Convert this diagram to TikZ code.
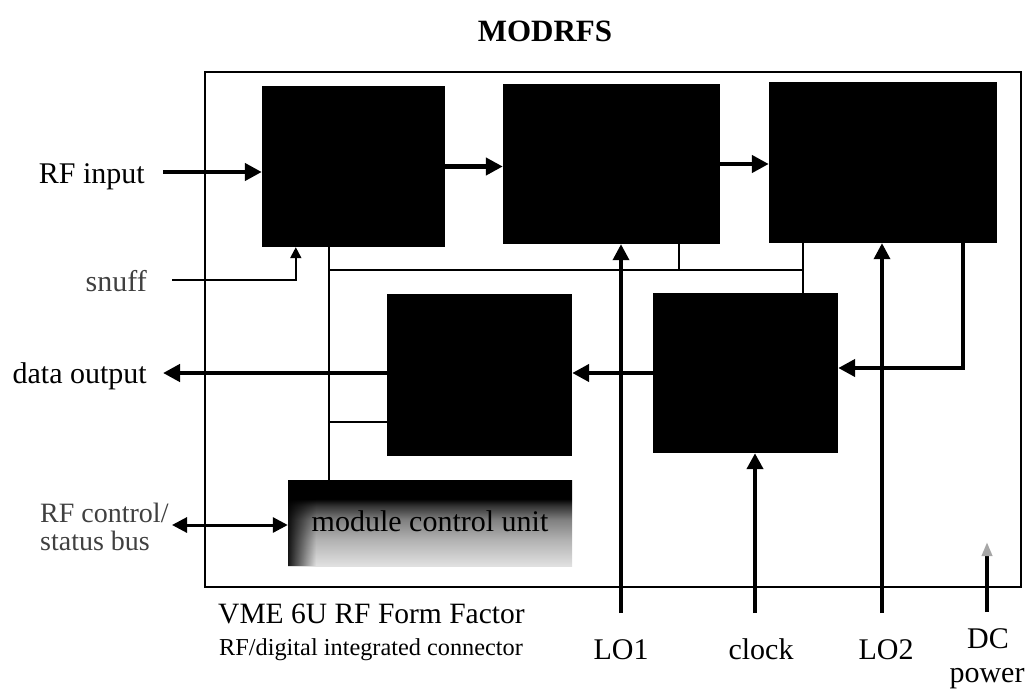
\documentclass[tikz,border=0pt]{standalone}
\usepackage{fontspec}
\setmainfont{Liberation Serif}
\usetikzlibrary{arrows.meta,fit,fadings}

% control unit fill: black along the top, fading to light grey at the bottom
% (the path is mapped onto the 25bp..75bp band of the shading)
\pgfdeclareverticalshading{mcushade}{100bp}{color(0bp)=(black!12); color(25bp)=(black!12);
  color(40bp)=(black!30); color(52bp)=(black!50); color(60bp)=(black!80);
  color(64bp)=(black); color(100bp)=(black)}
% darkening towards the left edge of the control unit
\tikzfading[name=mculeft, left color=transparent!0, right color=transparent!100]

\begin{document}
\begin{tikzpicture}[x=1pt,y=-1pt,
  every node/.style={font=\fontsize{30}{34}\selectfont},
  blk/.style={fill=black, draw=none, inner sep=0pt},
  lbl/.style={inner sep=0pt},
  wire/.style={line width=2pt},
  sig/.style={line width=4.5pt, -{Triangle[length=17pt,width=17pt]}},
  lo/.style={line width=3.5pt, -{Triangle[length=16pt,width=16pt]}},
]
\useasboundingbox (0,0) rectangle (1032,690);

% card outline
\node[draw, line width=2.5pt, inner sep=0pt, fit={(205,72)(1021,587)}] (card) {};

% functional blocks
\node[blk, fit={(262,86)(445,247)}] (b1) {};
\node[blk, fit={(503,84)(720,244)}] (b2) {};
\node[blk, fit={(769,82)(997,243)}] (b3) {};
\node[blk, fit={(653,293)(838,453)}] (b4) {};
\node[blk, fit={(387,294)(572,456)}] (b5) {};

% module control unit
\node[inner sep=0pt, fit={(288,480)(572,566)}, shading=mcushade] (mcu) {};
\fill[black, path fading=mculeft, fill opacity=0.9]
  (mcu.south west) rectangle ([xshift=28pt]mcu.north west);
\node[lbl] (mcut) at ([yshift=2pt]mcu.center) {module control unit};

% labels
\node[lbl, anchor=base, font=\bfseries\fontsize{31}{34}\selectfont] (title) at (545,42) {MODRFS};
\node[lbl, anchor=base east] (rfin) at (145,183) {RF input};
\node[lbl, anchor=base east, text=black!75] (snuff) at (147,291) {snuff};
\node[lbl, anchor=base east] (dout) at (147,383) {data output};
\node[lbl, anchor=base west, text=black!75, font=\fontsize{28}{30}\selectfont] (rfc1) at (40,522) {RF control/};
\node[lbl, anchor=base west, text=black!75, font=\fontsize{28}{30}\selectfont] (rfc2) at (40,550) {status bus};
\node[lbl, anchor=base west, font=\fontsize{29.5}{32}\selectfont] (vme) at (218,623) {VME 6U RF Form Factor};
\node[lbl, anchor=base west, font=\fontsize{24.3}{28}\selectfont] (conn) at (219,655) {RF/digital integrated connector};
\node[lbl, anchor=base] (lo1t) at (621,659) {LO1};
\node[lbl, anchor=base] (clkt) at (761,659) {clock};
\node[lbl, anchor=base] (lo2t) at (886,659) {LO2};
\node[lbl, anchor=base] (dct) at (988,648) {DC};
\node[lbl, anchor=base] (pwt) at (987,682) {power};

% free ends and junctions
\coordinate (rfinS) at (163,172);
\coordinate (doutE) at (163,373);
\coordinate (rfcE) at (172,525);
\coordinate (snS) at (172,280);
\coordinate (lo1S) at (621,613);
\coordinate (clkS) at (755,613);
\coordinate (lo2S) at (882,613);
\coordinate (dcS) at (987,612);
\coordinate (dcE) at (987,542);
\coordinate (fb) at (963,368);
\coordinate (j1) at (329,270);
\coordinate (j2) at (803,270);
\coordinate (j3) at (679,270);
\coordinate (j4) at (329,422);

% control bus
\draw[wire] (j1 |- b1.south) -- (j1 |- mcu.north);
\draw[wire] (j1) -- (j2);
\draw[wire] (j3 |- b2.south) -- (j3);
\draw[wire] (j2 |- b3.south) -- (j2 |- b4.north);
\draw[wire] (j4) -- (j4 -| b5.west);

% signal path
\draw[sig] (rfinS) -- (rfinS -| b1.west);
\draw[sig] (b1.east) -- (b1.east -| b2.west);
\draw[sig] (b2.east) -- (b2.east -| b3.west);
\draw[sig] (fb |- b3.south) -- (fb) -- (fb -| b4.east);
\draw[sig] (b4.west) -- (b4.west -| b5.east);
\draw[sig] (b5.west |- doutE) -- (doutE);

% side inputs
\draw[wire, -{Triangle[length=11pt,width=11pt]}] (snS) -| ([xshift=34pt]b1.south west);
\draw[line width=3pt, {Triangle[length=15pt,width=15pt]}-{Triangle[length=15pt,width=15pt]}]
  (rfcE) -- (rfcE -| mcu.west);

% connector inputs
\draw[lo] (lo1S) -- (lo1S |- b2.south);
\draw[lo, line width=4pt] (clkS) -- (clkS |- b4.south);
\draw[lo] (lo2S) -- (lo2S |- b3.south);
\draw[line width=4pt, -{Triangle[length=14pt,width=10pt,color=black!35]}] (dcS) -- (dcE);
\end{tikzpicture}
\end{document}
